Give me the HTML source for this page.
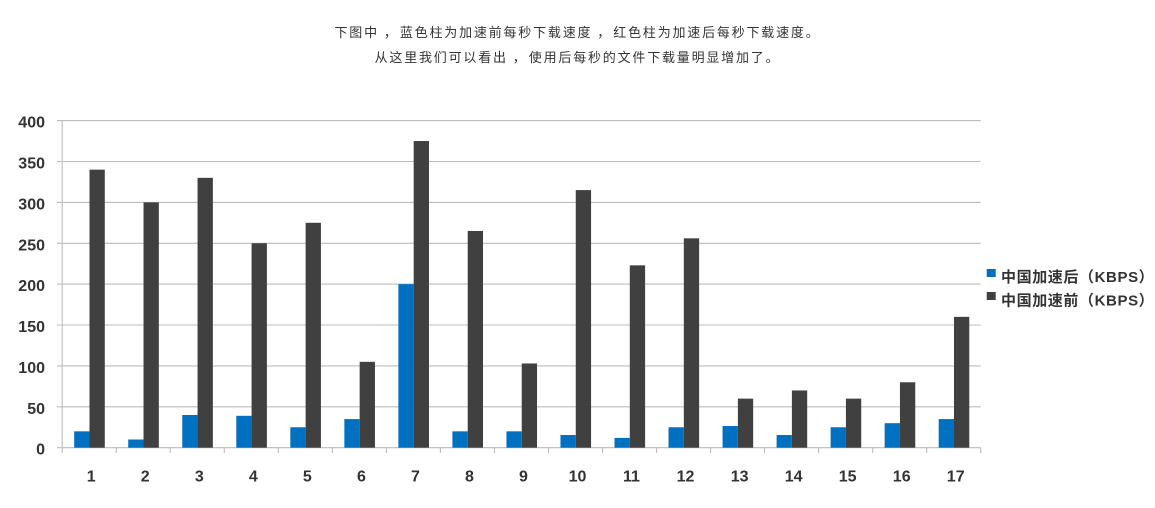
<!DOCTYPE html>
<html>
<head>
<meta charset="utf-8">
<style>
  html,body{margin:0;padding:0;background:#fff;}
  body{width:1155px;height:508px;position:relative;overflow:hidden;}
  .t{position:absolute;left:0;width:1155px;text-align:center;font-family:"Liberation Sans","Noto Sans CJK SC",sans-serif;font-size:13px;letter-spacing:1.8px;color:#333;white-space:nowrap;line-height:16px;}
  .c{display:inline-block;width:21px;padding-left:5px;box-sizing:border-box;text-align:left;letter-spacing:0;}
  svg{position:absolute;left:0;top:0;}
</style>
</head>
<body>
<div class="t" style="top:25px;">下图中<span class="c">，</span>蓝色柱为加速前每秒下载速度<span class="c">，</span>红色柱为加速后每秒下载速度。</div>
<div class="t" style="top:50px;">从这里我们可以看出<span class="c">，</span>使用后每秒的文件下载量明显增加了。</div>
<svg width="1155" height="508" viewBox="0 0 1155 508" xmlns="http://www.w3.org/2000/svg">
  <g stroke="#bcbcbc" stroke-width="1.1">
    <line x1="57" y1="120.6" x2="980.7" y2="120.6"/>
    <line x1="57" y1="161.5" x2="980.7" y2="161.5"/>
    <line x1="57" y1="202.4" x2="980.7" y2="202.4"/>
    <line x1="57" y1="243.3" x2="980.7" y2="243.3"/>
    <line x1="57" y1="284.1" x2="980.7" y2="284.1"/>
    <line x1="57" y1="325.0" x2="980.7" y2="325.0"/>
    <line x1="57" y1="365.9" x2="980.7" y2="365.9"/>
    <line x1="57" y1="406.8" x2="980.7" y2="406.8"/>
    <line x1="57" y1="447.7" x2="980.7" y2="447.7"/>
    <line x1="62.2" y1="120.6" x2="62.2" y2="453"/>
    <line x1="116.23" y1="447.7" x2="116.23" y2="453"/>
    <line x1="170.26" y1="447.7" x2="170.26" y2="453"/>
    <line x1="224.29" y1="447.7" x2="224.29" y2="453"/>
    <line x1="278.32" y1="447.7" x2="278.32" y2="453"/>
    <line x1="332.35" y1="447.7" x2="332.35" y2="453"/>
    <line x1="386.38" y1="447.7" x2="386.38" y2="453"/>
    <line x1="440.41" y1="447.7" x2="440.41" y2="453"/>
    <line x1="494.44" y1="447.7" x2="494.44" y2="453"/>
    <line x1="548.47" y1="447.7" x2="548.47" y2="453"/>
    <line x1="602.5" y1="447.7" x2="602.5" y2="453"/>
    <line x1="656.53" y1="447.7" x2="656.53" y2="453"/>
    <line x1="710.56" y1="447.7" x2="710.56" y2="453"/>
    <line x1="764.59" y1="447.7" x2="764.59" y2="453"/>
    <line x1="818.62" y1="447.7" x2="818.62" y2="453"/>
    <line x1="872.65" y1="447.7" x2="872.65" y2="453"/>
    <line x1="926.68" y1="447.7" x2="926.68" y2="453"/>
    <line x1="980.71" y1="447.7" x2="980.71" y2="453"/>
  </g>
  <!-- blue bars -->
  <g fill="#0070c0">
    <rect x="74.2" y="431.34" width="15.3" height="16.36"/>
    <rect x="128.23" y="439.52" width="15.3" height="8.18"/>
    <rect x="182.26" y="414.99" width="15.3" height="32.71"/>
    <rect x="236.29" y="415.81" width="15.3" height="31.89"/>
    <rect x="290.32" y="427.25" width="15.3" height="20.45"/>
    <rect x="344.35" y="419.08" width="15.3" height="28.62"/>
    <rect x="398.38" y="284.14" width="15.3" height="163.56"/>
    <rect x="452.41" y="431.34" width="15.3" height="16.36"/>
    <rect x="506.44" y="431.34" width="15.3" height="16.36"/>
    <rect x="560.47" y="435.02" width="15.3" height="12.68"/>
    <rect x="614.5" y="437.89" width="15.3" height="9.81"/>
    <rect x="668.53" y="427.25" width="15.3" height="20.45"/>
    <rect x="722.56" y="426.03" width="15.3" height="21.67"/>
    <rect x="776.59" y="435.02" width="15.3" height="12.68"/>
    <rect x="830.62" y="427.25" width="15.3" height="20.45"/>
    <rect x="884.65" y="423.17" width="15.3" height="24.53"/>
    <rect x="938.68" y="419.08" width="15.3" height="28.62"/>
  </g>
  <!-- gray bars -->
  <g fill="#404040">
    <rect x="89.5" y="169.65" width="15.3" height="278.05"/>
    <rect x="143.53" y="202.36" width="15.3" height="245.34"/>
    <rect x="197.56" y="177.83" width="15.3" height="269.87"/>
    <rect x="251.59" y="243.25" width="15.3" height="204.45"/>
    <rect x="305.62" y="222.8" width="15.3" height="224.9"/>
    <rect x="359.65" y="361.83" width="15.3" height="85.87"/>
    <rect x="413.68" y="141.02" width="15.3" height="306.68"/>
    <rect x="467.71" y="230.98" width="15.3" height="216.72"/>
    <rect x="521.74" y="363.47" width="15.3" height="84.23"/>
    <rect x="575.77" y="190.09" width="15.3" height="257.61"/>
    <rect x="629.8" y="265.33" width="15.3" height="182.37"/>
    <rect x="683.83" y="238.34" width="15.3" height="209.36"/>
    <rect x="737.86" y="398.63" width="15.3" height="49.07"/>
    <rect x="791.89" y="390.45" width="15.3" height="57.25"/>
    <rect x="845.92" y="398.63" width="15.3" height="49.07"/>
    <rect x="899.95" y="382.28" width="15.3" height="65.42"/>
    <rect x="953.98" y="316.85" width="15.3" height="130.85"/>
  </g>
  <!-- y labels -->
  <g font-family="Liberation Sans, sans-serif" font-size="16" font-weight="bold" fill="#333" text-anchor="end">
    <text x="45" y="127.6">400</text>
    <text x="45" y="168.5">350</text>
    <text x="45" y="209.4">300</text>
    <text x="45" y="250.3">250</text>
    <text x="45" y="291.1">200</text>
    <text x="45" y="332.0">150</text>
    <text x="45" y="372.9">100</text>
    <text x="45" y="413.8">50</text>
    <text x="45" y="454.7">0</text>
  </g>
  <!-- x labels -->
  <g font-family="Liberation Sans, sans-serif" font-size="16" font-weight="bold" fill="#333" text-anchor="middle">
    <text x="91.2" y="481.5">1</text>
    <text x="145.2" y="481.5">2</text>
    <text x="199.3" y="481.5">3</text>
    <text x="253.3" y="481.5">4</text>
    <text x="307.3" y="481.5">5</text>
    <text x="361.4" y="481.5">6</text>
    <text x="415.4" y="481.5">7</text>
    <text x="469.4" y="481.5">8</text>
    <text x="523.4" y="481.5">9</text>
    <text x="577.5" y="481.5">10</text>
    <text x="631.5" y="481.5">11</text>
    <text x="685.5" y="481.5">12</text>
    <text x="739.6" y="481.5">13</text>
    <text x="793.6" y="481.5">14</text>
    <text x="847.6" y="481.5">15</text>
    <text x="901.7" y="481.5">16</text>
    <text x="955.7" y="481.5">17</text>
  </g>
  <!-- legend -->
  <rect x="986.7" y="269" width="9" height="8" fill="#0070c0"/>
  <rect x="986.7" y="292" width="9" height="8" fill="#404040"/>
  <g font-family="Liberation Sans, Noto Sans CJK SC, sans-serif" font-size="15" font-weight="bold" fill="#333" letter-spacing="0.6">
    <text x="1001" y="282">中国加速后（KBPS）</text>
    <text x="1001" y="305.5">中国加速前（KBPS）</text>
  </g>
</svg>
</body>
</html>
